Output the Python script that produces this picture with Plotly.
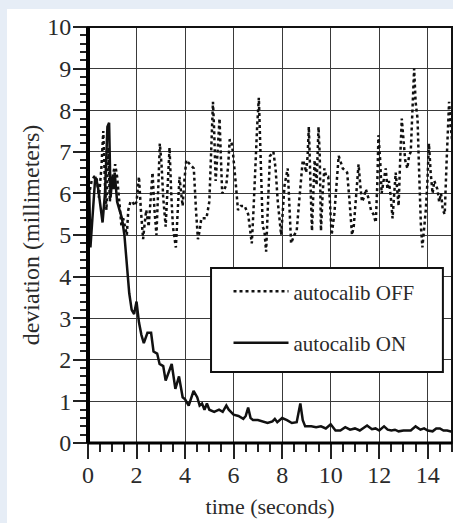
import plotly.graph_objects as go

# autocalib OFF (dotted)
t_off = [0.0, 0.05, 0.15, 0.25, 0.35, 0.45, 0.55, 0.63, 0.7, 0.76, 0.84, 0.9, 0.97, 1.04, 1.12, 1.2, 1.3, 1.38, 1.45, 1.52, 1.6, 1.66, 1.75, 1.84, 1.92, 2.0, 2.1, 2.18, 2.27, 2.34, 2.4, 2.5, 2.58, 2.66, 2.74, 2.82, 2.9, 2.96, 3.03, 3.1, 3.2, 3.28, 3.36, 3.43, 3.5, 3.62, 3.7, 3.77, 3.84, 3.9, 3.97, 4.05, 4.2, 4.36, 4.45, 4.53, 4.6, 4.67, 4.78, 4.88, 5.0, 5.08, 5.15, 5.2, 5.26, 5.34, 5.42, 5.48, 5.53, 5.62, 5.7, 5.78, 5.84, 5.92, 5.97, 6.08, 6.18, 6.3, 6.45, 6.6, 6.75, 6.82, 6.9, 6.97, 7.04, 7.12, 7.2, 7.27, 7.34, 7.42, 7.5, 7.64, 7.73, 7.82, 7.9, 7.96, 8.03, 8.1, 8.23, 8.3, 8.37, 8.5, 8.6, 8.7, 8.78, 8.85, 8.92, 8.99, 9.05, 9.1, 9.17, 9.23, 9.28, 9.34, 9.42, 9.5, 9.55, 9.6, 9.67, 9.74, 9.82, 9.9, 9.97, 10.04, 10.15, 10.24, 10.33, 10.5, 10.68, 10.78, 10.88, 10.95, 11.0, 11.08, 11.15, 11.22, 11.29, 11.37, 11.45, 11.55, 11.66, 11.76, 11.86, 11.92, 11.97, 12.04, 12.1, 12.18, 12.27, 12.34, 12.4, 12.48, 12.55, 12.62, 12.68, 12.74, 12.8, 12.87, 12.93, 13.0, 13.07, 13.16, 13.23, 13.3, 13.37, 13.44, 13.5, 13.58, 13.63, 13.67, 13.72, 13.78, 13.85, 13.92, 13.98, 14.05, 14.12, 14.2, 14.27, 14.33, 14.4, 14.47, 14.55, 14.62, 14.7, 14.78, 14.88, 14.95, 15.0]
d_off = [6.2, 6.0, 6.3, 6.4, 6.4, 5.9, 6.6, 7.5, 6.2, 5.6, 7.1, 5.8, 6.3, 6.5, 6.7, 6.4, 5.8, 5.2, 5.4, 5.2, 5.0, 5.6, 5.8, 5.8, 5.7, 5.8, 6.4, 5.6, 4.9, 5.3, 5.6, 5.2, 6.0, 6.5, 5.6, 5.0, 6.2, 7.2, 6.7, 5.9, 5.2, 6.3, 7.1, 6.0, 5.2, 4.7, 5.6, 6.4, 6.0, 5.7, 6.3, 6.8, 6.7, 6.6, 5.6, 4.9, 5.1, 5.4, 5.4, 5.4, 5.8, 6.9, 8.2, 7.5, 6.3, 7.0, 7.8, 6.8, 6.0, 6.1, 6.2, 6.7, 7.3, 7.2, 7.0, 6.3, 5.6, 5.7, 5.7, 5.5, 4.8, 5.6, 6.8, 7.6, 8.3, 6.6, 5.2, 5.1, 4.6, 5.8, 6.9, 7.0, 6.6, 5.8, 5.4, 5.0, 5.6, 6.2, 6.6, 5.6, 4.8, 5.0, 5.1, 5.8, 6.4, 6.8, 6.7, 6.5, 6.9, 7.6, 6.2, 5.1, 5.9, 6.8, 6.2, 7.6, 6.9, 5.1, 6.0, 6.6, 6.4, 6.4, 5.8, 5.0, 5.5, 6.2, 6.9, 6.6, 6.5, 5.8, 5.0, 5.2, 5.6, 6.1, 6.7, 6.2, 5.8, 5.9, 6.1, 5.9, 5.6, 5.5, 5.3, 6.2, 7.4, 6.8, 6.0, 6.3, 6.6, 6.1, 6.3, 5.9, 5.4, 6.0, 6.5, 6.1, 5.7, 6.9, 7.8, 7.3, 6.8, 6.6, 6.9, 7.0, 8.0, 9.0, 8.2, 7.8, 6.8, 5.8, 5.2, 4.7, 5.1, 5.6, 6.2, 7.2, 6.5, 6.0, 6.3, 6.2, 6.1, 5.8, 6.0, 5.6, 5.5, 6.8, 8.2, 7.6, 7.3]

# autocalib ON (solid)
t_on = [0.0, 0.05, 0.1, 0.2, 0.3, 0.4, 0.5, 0.6, 0.7, 0.8, 0.87, 0.93, 1.0, 1.05, 1.1, 1.2, 1.3, 1.4, 1.5, 1.6, 1.7, 1.8, 1.9, 2.0, 2.1, 2.2, 2.3, 2.45, 2.6, 2.7, 2.85, 2.95, 3.1, 3.2, 3.3, 3.45, 3.6, 3.75, 3.9, 4.0, 4.15, 4.35, 4.5, 4.6, 4.7, 4.8, 4.9, 5.0, 5.2, 5.4, 5.55, 5.7, 5.8, 6.0, 6.2, 6.4, 6.5, 6.6, 6.7, 6.8, 7.0, 7.2, 7.4, 7.6, 7.7, 7.8, 8.0, 8.2, 8.4, 8.6, 8.75, 8.85, 8.95, 9.2, 9.4, 9.6, 9.8, 10.0, 10.2, 10.4, 10.6, 10.8, 11.0, 11.2, 11.35, 11.5, 11.7, 11.85, 12.0, 12.2, 12.35, 12.5, 12.65, 12.8, 13.0, 13.15, 13.3, 13.5, 13.7, 13.85, 14.0, 14.2, 14.35, 14.5, 14.65, 14.8, 15.0]
d_on = [6.3, 6.1, 4.7, 5.5, 6.4, 6.2, 5.8, 5.3, 6.0, 7.6, 7.7, 5.9, 6.4, 6.1, 6.5, 5.8, 5.6, 5.4, 5.0, 4.3, 3.6, 3.2, 3.1, 3.4, 2.9, 2.6, 2.4, 2.65, 2.65, 2.2, 2.15, 1.9, 1.85, 1.5, 1.65, 1.9, 1.3, 1.6, 1.1, 1.05, 0.9, 1.25, 1.1, 0.9, 0.95, 0.8, 0.95, 0.8, 0.75, 0.8, 0.75, 0.9, 0.8, 0.68, 0.65, 0.58, 0.65, 0.85, 0.6, 0.55, 0.55, 0.52, 0.48, 0.52, 0.58, 0.5, 0.6, 0.55, 0.48, 0.5, 0.95, 0.55, 0.4, 0.4, 0.38, 0.4, 0.35, 0.45, 0.3, 0.3, 0.38, 0.32, 0.35, 0.3, 0.35, 0.42, 0.33, 0.35, 0.3, 0.4, 0.32, 0.3, 0.32, 0.28, 0.3, 0.3, 0.3, 0.4, 0.32, 0.35, 0.3, 0.28, 0.35, 0.35, 0.3, 0.3, 0.27]

x_ticks = [0, 2, 4, 6, 8, 10, 12, 14]
y_ticks = [0, 1, 2, 3, 4, 5, 6, 7, 8, 9, 10]

FONT = "Liberation Serif, Times New Roman, serif"
TXT = "#2a2a2a"

fig = go.Figure()
fig.add_trace(go.Scatter(x=t_off, y=d_off, mode="lines", name="autocalib OFF",
                         legendgroup="off",
                         line=dict(color="#111111", width=2.5, dash="dot")))
fig.add_trace(go.Scatter(x=t_on, y=d_on, mode="lines", name="autocalib ON",
                         legendgroup="on",
                         line=dict(color="#111111", width=2.5)))

fig.update_layout(
    width=453, height=523,
    margin=dict(l=88, r=1, t=27, b=80),
    paper_bgcolor="#e6edf6",
    plot_bgcolor="white",
    font=dict(family=FONT, size=22, color=TXT),
    showlegend=True,
    legend=dict(x=0.386, y=0.413, xanchor="left", yanchor="top",
                bgcolor="rgba(0,0,0,0)", borderwidth=0,
                font=dict(family=FONT, size=21, color=TXT),
                itemwidth=55, tracegroupgap=21, traceorder="grouped"),
    shapes=[
        # white page panel
        dict(type="rect", xref="paper", yref="paper", x0=-0.2225, x1=1.02,
             y0=-0.3, y1=1.0433, fillcolor="white", line=dict(width=0), layer="below"),
        # plot frame
        dict(type="rect", xref="paper", yref="paper", x0=0, x1=1, y0=0, y1=1,
             line=dict(color="#111111", width=2), layer="above"),
        dict(type="line", xref="paper", yref="paper", x0=0, x1=0, y0=0, y1=1,
             line=dict(color="#000000", width=4), layer="above"),
        dict(type="line", xref="paper", yref="paper", x0=0, x1=1, y0=0, y1=0,
             line=dict(color="#000000", width=3), layer="above"),
        # legend box
        dict(type="rect", xref="paper", yref="paper", x0=0.338, x1=0.975,
             y0=0.1707, y1=0.4207, fillcolor="white",
             line=dict(color="#111111", width=2), layer="above"),
    ],
)

fig.update_xaxes(
    range=[0, 15], tickvals=x_ticks, ticks="outside", ticklen=15, tickwidth=1.5,
    tickcolor="#222222", showgrid=True, gridcolor="#3a3a3a", gridwidth=1.4,
    zeroline=False, showline=False, tickfont=dict(family=FONT, size=24, color=TXT),
    ticklabelstandoff=-5,
    minor=dict(dtick=0.5, ticks="outside", ticklen=8, tickwidth=1.5,
               tickcolor="#222222", showgrid=False),
    title=dict(text="time (seconds)", standoff=11,
               font=dict(family=FONT, size=22, color=TXT)),
)
fig.update_yaxes(
    range=[0, 10], tickvals=y_ticks, ticks="outside", ticklen=14, tickwidth=1.5,
    tickcolor="#222222", showgrid=True, gridcolor="#3a3a3a", gridwidth=1.4,
    zeroline=False, showline=False, tickfont=dict(family=FONT, size=24, color=TXT),
    ticklabelstandoff=-3,
    minor=dict(dtick=0.2, ticks="outside", ticklen=7, tickwidth=2,
               tickcolor="#222222", showgrid=False),
    title=dict(text="deviation (millimeters)", standoff=0,
               font=dict(family=FONT, size=24, color=TXT)),
)

fig.write_html("out.html")
